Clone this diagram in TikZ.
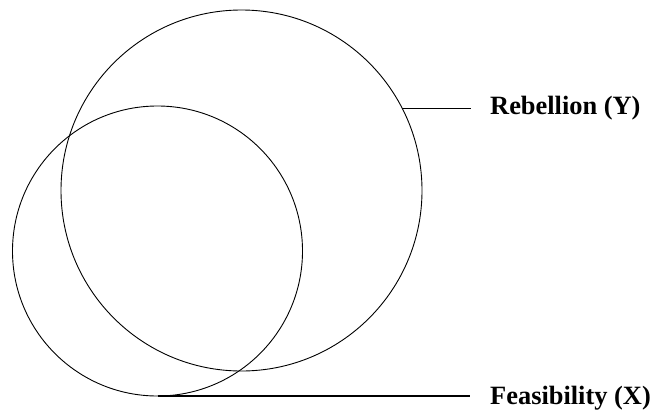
\documentclass[tikz,border=0pt]{standalone}
\usepackage{fontspec}
\setmainfont{Liberation Serif}

\begin{document}
\begin{tikzpicture}[x=1pt,y=-1pt]
  \useasboundingbox (0,0) rectangle (653,410);
  \tikzset{ring/.style={circle,draw,line width=0.9pt,inner sep=0pt,outer sep=0pt},
           tag/.style={anchor=west,inner sep=0pt,font=\fontsize{26.4}{30}\selectfont\bfseries}}
  \node[ring,minimum size=361pt] (Y) at (241.5,190.5) {};
  \node[ring,minimum size=290pt] (X) at (157.5,251) {};
  \node[tag] (ly) at (490,108) {Rebellion (Y)};
  \node[tag] (lx) at (490,398) {Feasibility (X)};
  \draw[line width=1.5pt,shorten >=19pt] (Y.27) -- (Y.27 -| ly.west);
  \draw[line width=1.5pt,shorten >=20pt] (X.south) -- (X.south -| lx.west);
\end{tikzpicture}
\end{document}
